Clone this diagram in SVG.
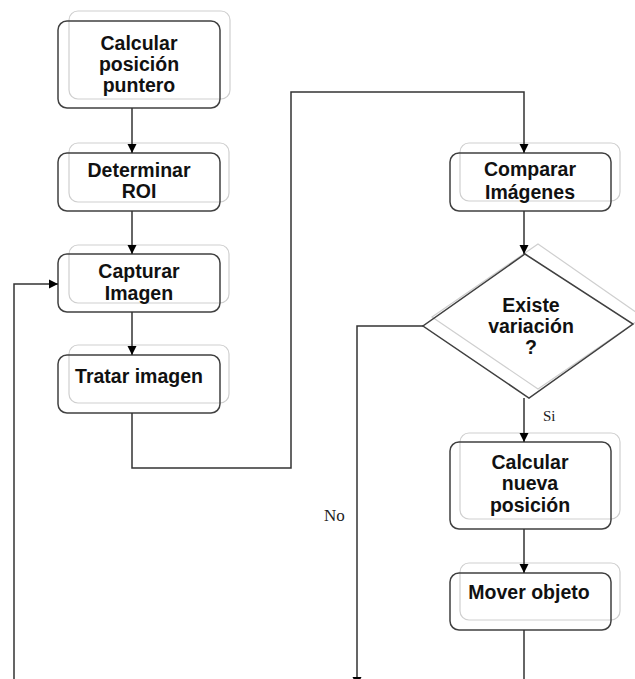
<svg xmlns="http://www.w3.org/2000/svg" width="635" height="679" viewBox="0 0 635 679">
  <style>
    .back { fill: none; stroke: #cfcfcf; stroke-width: 1.2; }
    .front { fill: none; stroke: #404040; stroke-width: 1.5; }
    .lbl { font-family: "Liberation Sans", Arial, sans-serif; font-weight: bold; font-size: 19.5px; fill: #111; text-anchor: middle; }
    .edge { fill: none; stroke: #333; stroke-width: 1.5; }
    .note { font-family: "Liberation Serif", "Times New Roman", serif; fill: #222; }
  </style>
  <defs>
    <marker id="arrow" markerUnits="userSpaceOnUse" markerWidth="10" markerHeight="10" refX="9" refY="5" orient="auto">
      <path d="M0,0.5 L9,5 L0,9.5 Z" fill="#000"/>
    </marker>
  </defs>
  <rect width="635" height="679" fill="#fff"/>

  <!-- process steps, each a light back frame plus a dark front frame -->
  <g id="calcular-posicion">
    <rect class="back" x="69" y="11" width="161" height="88" rx="9"/>
    <rect class="front" x="58" y="21" width="162" height="87" rx="9"/>
    <text class="lbl" x="139" y="50">Calcular</text>
    <text class="lbl" x="139" y="71">posición</text>
    <text class="lbl" x="139" y="92">puntero</text>
  </g>
  <g id="determinar-roi">
    <rect class="back" x="69" y="143" width="160" height="59" rx="9"/>
    <rect class="front" x="58" y="153" width="162" height="58" rx="9"/>
    <text class="lbl" x="139" y="177">Determinar</text>
    <text class="lbl" x="139" y="198">ROI</text>
  </g>
  <g id="capturar-imagen">
    <rect class="back" x="69" y="245" width="160" height="58" rx="9"/>
    <rect class="front" x="58" y="254" width="162" height="58" rx="9"/>
    <text class="lbl" x="139" y="278">Capturar</text>
    <text class="lbl" x="139" y="300">Imagen</text>
  </g>
  <g id="tratar-imagen">
    <rect class="back" x="69" y="345" width="160" height="58" rx="9"/>
    <rect class="front" x="58" y="355" width="162" height="58" rx="9"/>
    <text class="lbl" x="139" y="383">Tratar imagen</text>
  </g>
  <g id="comparar-imagenes">
    <rect class="back" x="460" y="143" width="160" height="58" rx="9"/>
    <rect class="front" x="450" y="153" width="161" height="58" rx="9"/>
    <text class="lbl" x="530" y="176">Comparar</text>
    <text class="lbl" x="530" y="199">Imágenes</text>
  </g>
  <g id="existe-variacion">
    <polygon class="back" points="538,244 643,317 538,389 432,317"/>
    <polygon class="front" points="525,254 633,324 529,398 423,326"/>
    <text class="lbl" x="531" y="312">Existe</text>
    <text class="lbl" x="531" y="333">variación</text>
    <text class="lbl" x="531" y="354">?</text>
  </g>
  <g id="calcular-nueva-posicion">
    <rect class="back" x="460" y="433" width="160" height="86" rx="9"/>
    <rect class="front" x="450" y="442" width="161" height="87" rx="9"/>
    <text class="lbl" x="530" y="469">Calcular</text>
    <text class="lbl" x="530" y="490">nueva</text>
    <text class="lbl" x="530" y="512">posición</text>
  </g>
  <g id="mover-objeto">
    <rect class="back" x="460" y="563" width="160" height="57" rx="9"/>
    <rect class="front" x="450" y="573" width="161" height="57" rx="9"/>
    <text class="lbl" x="529" y="599">Mover objeto</text>
  </g>

  <!-- connectors -->
  <g id="connectors">
    <line class="edge" x1="132" y1="108" x2="132" y2="153" marker-end="url(#arrow)"/>
    <line class="edge" x1="132" y1="211" x2="132" y2="254" marker-end="url(#arrow)"/>
    <line class="edge" x1="132" y1="312" x2="132" y2="355" marker-end="url(#arrow)"/>
    <polyline class="edge" points="132,413 132,468 291,468 291,92 524,92 524,153" marker-end="url(#arrow)"/>
    <line class="edge" x1="524" y1="211" x2="524" y2="254" marker-end="url(#arrow)"/>
    <line class="edge" x1="524" y1="398" x2="524" y2="442" marker-end="url(#arrow)"/>
    <line class="edge" x1="524" y1="529" x2="524" y2="573" marker-end="url(#arrow)"/>
    <line class="edge" x1="524" y1="630" x2="524" y2="680"/>
    <polyline class="edge" points="423,326 357,326 357,686" marker-end="url(#arrow)"/>
    <polyline class="edge" points="14,680 14,284 58,284" marker-end="url(#arrow)"/>
    <text class="note" x="543" y="421" font-size="15">Si</text>
    <text class="note" x="324" y="521" font-size="17">No</text>
  </g>
</svg>
